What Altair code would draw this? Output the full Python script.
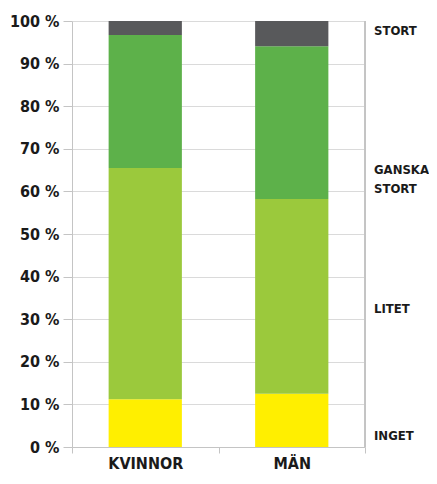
import altair as alt
import pandas as pd

groups = ["KVINNOR", "MÄN"]
categories = ["INGET", "LITET", "GANSKA STORT", "STORT"]
colors = ["#FFEF00", "#9BC93C", "#5DB14A", "#58595B"]
kvinnor = [11.2, 54.3, 31.2, 3.3]
man = [12.5, 45.7, 35.9, 5.9]
label_texts = ["INGET", "LITET", "GANSKA\nSTORT", "STORT"]
label_y = [2.6, 32.4, 65.1, 97.6]
y_ticks = [0, 10, 20, 30, 40, 50, 60, 70, 80, 90, 100]

rows = []
for g, vals in zip(groups, [kvinnor, man]):
    for i, (c, v) in enumerate(zip(categories, vals)):
        rows.append({"group": g, "cat": c, "value": v, "idx": i})
df = pd.DataFrame(rows)
lab = pd.DataFrame({"text": label_texts, "pos": label_y})

FONT = "DejaVu Sans Condensed"
FS = 16
W, H = 293, 426

bars = alt.Chart(df).mark_bar(width=alt.RelativeBandSize(0.5)).encode(
    x=alt.X("group:N", sort=groups, title=None,
            scale=alt.Scale(paddingInner=0, paddingOuter=0),
            axis=alt.Axis(labelAngle=0, tickBand="extent", tickSize=6,
                          tickColor="#c4c4c4", domainColor="#c4c4c4",
                          labelFont=FONT, labelFontSize=FS, labelFontWeight="bold",
                          labelColor="#1a1a1a", labelBaseline="alphabetic",
                          labelPadding=15, grid=False)),
    y=alt.Y("value:Q", stack="zero", title=None,
            scale=alt.Scale(domain=[0, 100], nice=False),
            axis=alt.Axis(values=y_ticks, labelExpr="datum.value + ' %'",
                          tickSize=9, tickColor="#c4c4c4", domainColor="#c4c4c4",
                          gridColor="#dadada", grid=True,
                          labelFont=FONT, labelFontSize=FS, labelFontWeight="bold",
                          labelColor="#1a1a1a", labelPadding=4)),
    color=alt.Color("cat:N", scale=alt.Scale(domain=categories, range=colors), legend=None),
    order=alt.Order("idx:Q"),
)

edge = alt.Chart(df).mark_rule(color="#c4c4c4", strokeWidth=1).encode(
    x=alt.value(W), y=alt.value(0), y2=alt.value(H)
)

labels = alt.Chart(lab).mark_text(
    align="left", baseline="middle", font=FONT, fontSize=13, fontWeight="bold",
    color="#1a1a1a", lineBreak="\n", lineHeight=19
).encode(
    x=alt.value(W + 9),
    y=alt.Y("pos:Q"),
    text="text:N",
)

chart = alt.layer(bars, edge, labels).properties(
    width=W, height=H,
    padding={"left": 64, "top": 13, "right": 64, "bottom": 25},
    autosize=alt.AutoSizeParams(type="none"),
).configure_view(stroke=None)

chart.save("out.html", embed_options={"renderer": "svg", "actions": False})
